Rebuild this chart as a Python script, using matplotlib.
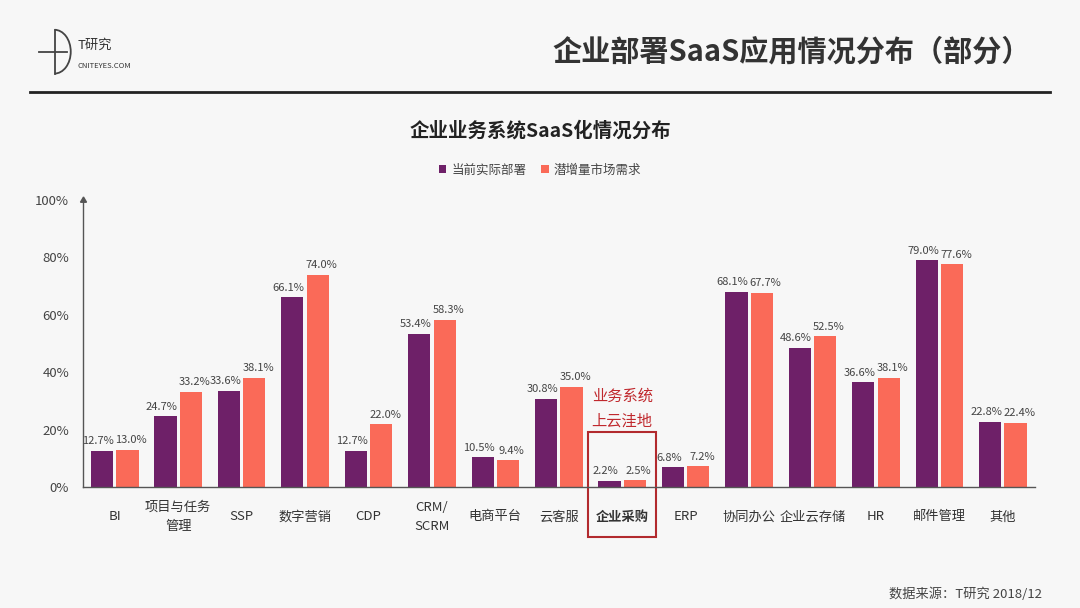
import matplotlib.pyplot as plt
import matplotlib.patches as mpatches
import numpy as np

plt.rcParams['font.family'] = ['Noto Sans CJK SC', 'DejaVu Sans']

categories = ["BI", "项目与任务\n管理", "SSP", "数字营销", "CDP", "CRM/\nSCRM", "电商平台", "云客服",
              "企业采购", "ERP", "协同办公", "企业云存储", "HR", "邮件管理", "其他"]
deployed = [12.7, 24.7, 33.6, 66.1, 12.7, 53.4, 10.5, 30.8, 2.2, 6.8, 68.1, 48.6, 36.6, 79.0, 22.8]
demand = [13.0, 33.2, 38.1, 74.0, 22.0, 58.3, 9.4, 35.0, 2.5, 7.2, 67.7, 52.5, 38.1, 77.6, 22.4]
series_names = ["当前实际部署", "潜增量市场需求"]
yticks = [0, 20, 40, 60, 80, 100]

purple = "#6E2068"
salmon = "#FA6A58"
txt = "#444444"
bg = "#F7F7F7"

fig = plt.figure(figsize=(10.8, 6.08), dpi=100, facecolor=bg)

# header
fig.text(0.955, 0.915, "企业部署SaaS应用情况分布（部分）", ha="right", va="center",
         fontsize=21, fontweight="bold", color="#333333")
fig.add_artist(plt.Line2D([0.028, 0.972], [0.849, 0.849], color="#222222", lw=2))
# logo
fig.add_artist(mpatches.Arc((0.0505, 0.915), 0.03, 0.072, theta1=-90, theta2=90,
                            color="#444444", lw=1.3))
fig.add_artist(plt.Line2D([0.0505, 0.0505], [0.879, 0.951], color="#444444", lw=1.3))
fig.add_artist(plt.Line2D([0.036, 0.062], [0.915, 0.915], color="#444444", lw=1.3))
fig.text(0.072, 0.925, "T研究", fontsize=9.5, color="#333333", va="center")
fig.text(0.072, 0.892, "CNITEYES.COM", fontsize=5.5, color="#333333", va="center")

fig.text(0.5, 0.785, "企业业务系统SaaS化情况分布", ha="center", va="center",
         fontsize=14, fontweight="bold", color="#222222")
fig.text(0.965, 0.023, "数据来源：T研究 2018/12", ha="right", va="center", fontsize=9.5, color="#444444")

ax = fig.add_axes([0.0769, 0.199, 0.881, 0.472])
ax.set_facecolor("none")
x = np.arange(len(categories))
w = 0.35
gap = 0.025
b1 = ax.bar(x - w / 2 - gap, deployed, w, color=purple, label=series_names[0])
b2 = ax.bar(x + w / 2 + gap, demand, w, color=salmon, label=series_names[1])

for xi, v in zip(x, deployed):
    ax.text(xi - w / 2 - gap - 0.06, v + 1.5, f"{v:.1f}%", ha="center", va="bottom", fontsize=8, color=txt)
for xi, v in zip(x, demand):
    ax.text(xi + w / 2 + gap + 0.06, v + 1.5, f"{v:.1f}%", ha="center", va="bottom", fontsize=8, color=txt)

ax.set_xlim(-0.5, len(categories) - 0.5)
ax.set_ylim(0, 100)
ax.set_yticks(yticks)
ax.set_yticklabels([f"{t}%" for t in yticks])
ax.set_xticks(x)
ax.set_xticklabels(categories, fontsize=9.5, color="#333333", linespacing=1.6)
for lbl in ax.get_xticklabels():
    lbl.set_verticalalignment("center")
    if lbl.get_text() == "企业采购":
        lbl.set_fontweight("bold")
ax.tick_params(axis="y", length=0, labelsize=9.5, labelcolor="#444444", pad=10)
ax.tick_params(axis="x", length=0, pad=21.5)
for s in ["top", "right"]:
    ax.spines[s].set_visible(False)
for s in ["left", "bottom"]:
    ax.spines[s].set_color("#555555")
    ax.spines[s].set_linewidth(1)
ax.plot(0, 1, marker=(3, 0, 0), color="#555555", markersize=5, transform=ax.transAxes, clip_on=False)

# highlight box around 企业采购
hi = categories.index("企业采购")
box = mpatches.Rectangle((hi - 0.54, -17.5), 1.08, 36.5, transform=ax.transData,
                         fill=False, edgecolor="#B22A2E", lw=1.5, clip_on=False)
ax.add_patch(box)
ax.text(hi, 31.5, "业务系统", ha="center", va="center", fontsize=11, color="#C0282D")
ax.text(hi, 23, "上云洼地", ha="center", va="center", fontsize=11, color="#C0282D")

leg = fig.legend(handles=[b1, b2], loc="center", bbox_to_anchor=(0.5, 0.72), ncol=2, frameon=False,
                 fontsize=9, handlelength=0.6, handleheight=0.6, handletextpad=0.4, columnspacing=1.2)
for t in leg.get_texts():
    t.set_color("#444444")

fig.savefig("out.png", dpi=100, facecolor=bg)
